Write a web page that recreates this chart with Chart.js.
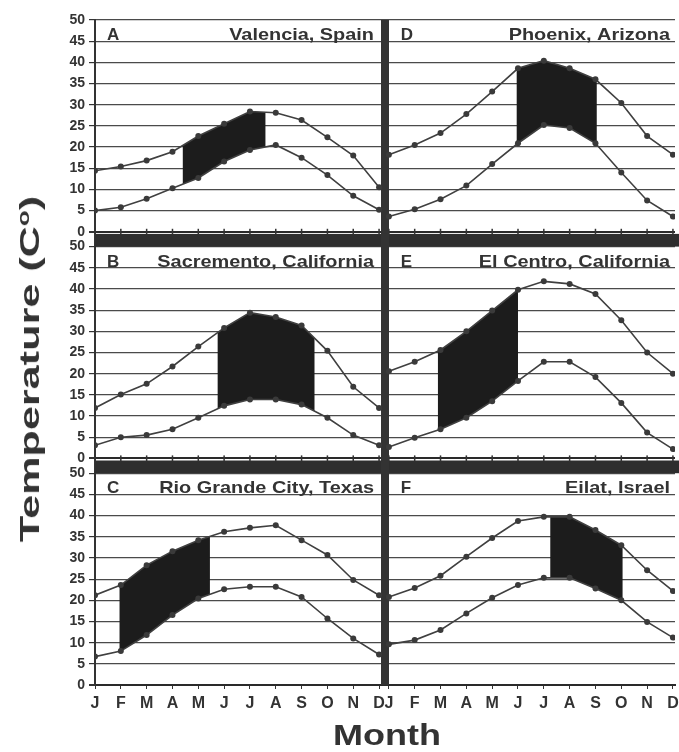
<!DOCTYPE html>
<html>
<head>
<meta charset="utf-8">
<title>Temperature by month</title>
<script src="https://cdn.jsdelivr.net/npm/chart.js@4/dist/chart.umd.min.js"></script>
<style>
  html, body { margin: 0; padding: 0; background: #fff; }
  #wrap { position: relative; width: 679px; height: 752px; overflow: hidden;
          font-family: "Liberation Sans", Arial, sans-serif; color: #333; }
  #myChart { position: absolute; left: 0; top: 0; }
  #yTitle { position: absolute; left: 30px; top: 369px; font-weight: bold; font-size: 27px;
            white-space: nowrap; transform: translate(-50%, -50%) rotate(-90deg) scaleX(1.6); }
  #yTitle sup { font-size: 60%; }
  #xTitle { position: absolute; left: 387px; top: 735px; font-weight: bold; font-size: 30px;
            white-space: nowrap; transform: translate(-50%, -50%) scaleX(1.2); }
</style>
</head>
<body>
<div id="wrap">
  <canvas id="myChart" width="679" height="752"></canvas>
  <div id="yTitle">Temperature (C<sup>o</sup>)</div>
  <div id="xTitle">Month</div>
</div>
<script>
const monthLetters = ['J', 'F', 'M', 'A', 'M', 'J', 'J', 'A', 'S', 'O', 'N', 'D'];
const yTicks = [0, 5, 10, 15, 20, 25, 30, 35, 40, 45, 50];

// A - Valencia, Spain
const valenciaMax = [14.4, 15.4, 16.8, 18.9, 22.6, 25.5, 28.4, 28.1, 26.4, 22.3, 18.0, 10.5];
const valenciaMin = [5.0, 5.8, 7.8, 10.3, 12.7, 16.6, 19.3, 20.5, 17.5, 13.4, 8.5, 5.2];
const valenciaShade = [3.4, 6.6];

// B - Sacremento, California
const sacramentoMax = [11.9, 15.1, 17.6, 21.7, 26.4, 30.8, 34.4, 33.4, 31.4, 25.4, 16.9, 11.9];
const sacramentoMin = [3.1, 5.0, 5.5, 6.9, 9.6, 12.4, 13.9, 13.9, 12.7, 9.6, 5.5, 3.1];
const sacramentoShade = [4.75, 8.5];

// C - Rio Grande City, Texas
const rioGrandeMax = [21.2, 23.6, 28.3, 31.6, 34.2, 36.2, 37.1, 37.7, 34.2, 30.7, 24.8, 21.2];
const rioGrandeMin = [6.7, 8.0, 11.8, 16.5, 20.4, 22.6, 23.2, 23.2, 20.8, 15.7, 11.0, 7.2];
const rioGrandeShade = [0.95, 4.45];

// D - Phoenix, Arizona
const phoenixMax = [18.2, 20.5, 23.3, 27.8, 33.1, 38.6, 40.4, 38.6, 36.0, 30.4, 22.6, 18.2];
const phoenixMin = [3.6, 5.3, 7.7, 10.9, 16.0, 20.9, 25.2, 24.5, 20.9, 14.0, 7.4, 3.6];
const phoenixShade = [4.95, 8.05];

// E - El Centro, California
const elCentroMax = [20.6, 22.8, 25.6, 30.0, 34.9, 39.8, 41.8, 41.2, 38.8, 32.6, 25.0, 20.0];
const elCentroMin = [2.7, 4.9, 6.9, 9.6, 13.5, 18.3, 22.8, 22.8, 19.2, 13.1, 6.1, 2.2];
const elCentroShade = [1.9, 5.0];

// F - Eilat, Israel
const eilatMax = [20.8, 22.9, 25.8, 30.3, 34.7, 38.7, 39.7, 39.7, 36.6, 33.0, 27.1, 22.2];
const eilatMin = [9.6, 10.6, 13.0, 16.9, 20.6, 23.6, 25.3, 25.3, 22.8, 20.0, 14.9, 11.2];
const eilatShade = [6.25, 9.05];

const panels = [
  { letter: 'A', name: 'Valencia, Spain', x: 'xL', y: 'yA', hi: valenciaMax, lo: valenciaMin, shade: valenciaShade },
  { letter: 'B', name: 'Sacremento, California', x: 'xL', y: 'yB', hi: sacramentoMax, lo: sacramentoMin, shade: sacramentoShade },
  { letter: 'C', name: 'Rio Grande City, Texas', x: 'xL', y: 'yC', hi: rioGrandeMax, lo: rioGrandeMin, shade: rioGrandeShade },
  { letter: 'D', name: 'Phoenix, Arizona', x: 'xR', y: 'yA', hi: phoenixMax, lo: phoenixMin, shade: phoenixShade },
  { letter: 'E', name: 'El Centro, California', x: 'xR', y: 'yB', hi: elCentroMax, lo: elCentroMin, shade: elCentroShade },
  { letter: 'F', name: 'Eilat, Israel', x: 'xR', y: 'yC', hi: eilatMax, lo: eilatMin, shade: eilatShade }
];

Chart.defaults.font.family = "'Liberation Sans', Arial, sans-serif";
Chart.defaults.color = '#333';

// two lines per panel: max then min
const datasets = [];
panels.forEach(p => {
  [p.hi, p.lo].forEach(vals => {
    datasets.push({
      data: vals.map((v, i) => ({ x: i, y: v })),
      xAxisID: p.x,
      yAxisID: p.y,
      borderColor: '#404040',
      borderWidth: 1.6,
      pointRadius: 3,
      pointBackgroundColor: '#3a3a3a',
      pointBorderWidth: 0,
      tension: 0,
      fill: false
    });
  });
});

const yScale = (max, order) => ({
  type: 'linear',
  position: 'left',
  stack: 'rows',
  stackWeight: max,
  weight: order,
  min: 0,
  max: max,
  afterBuildTicks: s => { s.ticks = yTicks.map(v => ({ value: v })); },
  afterFit: s => { s.width = 95; s.paddingTop = 0; s.paddingBottom = 0; },
  ticks: { autoSkip: false, padding: 4, color: '#333', font: { size: 14, weight: 'bold' } },
  grid: {
    color: c => (c.tick && c.tick.value === 0) ? '#2a2a2a' : '#4a4a4a',
    lineWidth: c => (c.tick && c.tick.value === 0) ? 2 : 1.2,
    tickLength: 6,
    tickColor: '#333'
  },
  border: { display: true, color: '#333', width: 2 }
});

const xScale = (min, max) => ({
  type: 'linear',
  position: 'bottom',
  stack: 'cols',
  stackWeight: 1,
  min: min,
  max: max,
  afterBuildTicks: s => { s.ticks = monthLetters.map((m, i) => ({ value: i })); },
  afterFit: s => { s.height = 67; s.paddingLeft = 0; s.paddingRight = 0; },
  ticks: {
    autoSkip: false,
    maxRotation: 0,
    padding: 5,
    color: '#333',
    font: { size: 16, weight: 'bold' },
    callback: v => monthLetters[v]
  },
  grid: { drawOnChartArea: false, tickLength: 4, color: '#333' },
  border: { display: true, color: '#2a2a2a', width: 2 }
});

// shading, bands, divider and panel titles
const panelDecor = {
  id: 'panelDecor',
  beforeDatasetsDraw(chart) {
    const ctx = chart.ctx;
    const area = chart.chartArea;
    const sc = chart.scales;
    ctx.save();

    // growing season between the two curves
    panels.forEach((p, i) => {
      const xs = sc[p.x], ys = sc[p.y];
      const x0 = xs.getPixelForValue(p.shade[0]);
      const x1 = xs.getPixelForValue(p.shade[1]);
      const hi = chart.getDatasetMeta(2 * i).data;
      const lo = chart.getDatasetMeta(2 * i + 1).data;
      ctx.save();
      ctx.beginPath();
      ctx.rect(x0, ys.top, x1 - x0, ys.bottom - ys.top);
      ctx.clip();
      ctx.beginPath();
      hi.forEach((pt, k) => k ? ctx.lineTo(pt.x, pt.y) : ctx.moveTo(pt.x, pt.y));
      for (let k = lo.length - 1; k >= 0; k--) ctx.lineTo(lo[k].x, lo[k].y);
      ctx.closePath();
      ctx.fillStyle = '#1c1c1c';
      ctx.fill();
      ctx.restore();
    });

    // dark bands on top of rows B and C
    ctx.fillStyle = '#2e2e2e';
    ['yB', 'yC'].forEach(id => {
      const top = sc[id].getPixelForValue(53);
      const bot = sc[id].getPixelForValue(50);
      ctx.fillRect(area.left, top, chart.width - area.left, bot - top);
    });

    // small month ticks on the bottom line of rows A and B
    ctx.fillStyle = '#333';
    ['yA', 'yB'].forEach(id => {
      const y0 = sc[id].getPixelForValue(0);
      ['xL', 'xR'].forEach(xid => {
        monthLetters.forEach((m, i) => {
          const x = sc[xid].getPixelForValue(i);
          ctx.fillRect(x - 0.75, y0 - 3, 1.5, 6);
        });
      });
    });

    // thick divider between the columns
    const mid = sc.xL.right;
    ctx.fillStyle = '#333';
    ctx.fillRect(mid - 4, area.top, 8, area.bottom - area.top);
    ctx.restore();
  },
  afterDatasetsDraw(chart) {
    const ctx = chart.ctx;
    const sc = chart.scales;
    ctx.save();
    ctx.fillStyle = '#333';
    ctx.font = "bold 17px 'Liberation Sans', Arial, sans-serif";
    ctx.textBaseline = 'alphabetic';
    panels.forEach(p => {
      const xs = sc[p.x], ys = sc[p.y];
      const base = ys.getPixelForValue(45) - 1;
      ctx.textAlign = 'left';
      ctx.fillText(p.letter, xs.getPixelForValue(0) + 12, base);
      ctx.save();
      ctx.translate(p.x === 'xL' ? xs.right - 11 : xs.right - 5, base);
      ctx.scale(1.17, 1);
      ctx.textAlign = 'right';
      ctx.fillText(p.name, 0, 0);
      ctx.restore();
    });
    ctx.restore();
  }
};

new Chart(document.getElementById('myChart'), {
  type: 'line',
  data: { datasets: datasets },
  options: {
    responsive: false,
    animation: false,
    layout: { padding: { left: 0, top: 20, right: 2, bottom: 0 } },
    plugins: {
      legend: { display: false },
      tooltip: { enabled: false },
      title: { display: false }
    },
    scales: {
      xL: xScale(0, 11.23),
      xR: xScale(-0.15, 11.08),
      yA: yScale(50, 3),
      yB: yScale(53.5, 2),
      yC: yScale(53.5, 1)
    }
  },
  plugins: [panelDecor]
});
</script>
</body>
</html>
